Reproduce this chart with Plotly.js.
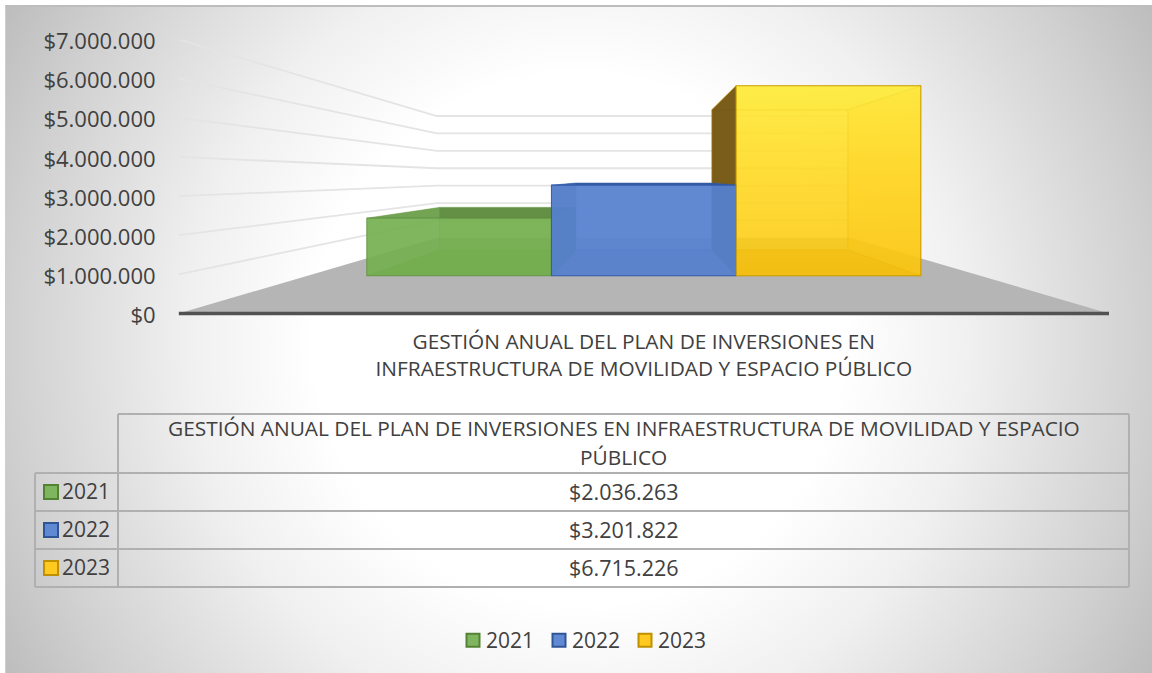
<!DOCTYPE html>
<html lang="es">
<head>
<meta charset="utf-8">
<script src="https://cdn.plot.ly/plotly-3.0.1.min.js"></script>
<style>
html,body{margin:0;padding:0;background:#fff;width:1152px;height:673px;overflow:hidden}
#bg{position:absolute;left:5px;top:5px;right:0;bottom:0;box-sizing:border-box;border-top:2px solid #bdbdbd;border-left:1px solid #cfcfcf;
background:radial-gradient(circle farthest-corner at 50% 50%,#fff 0%,#fff 40%,#f0f0f0 59%,#d0d0d0 86%,#bdbdbd 100%)}
#chart{position:absolute;left:0;top:0;width:1152px;height:673px}
</style>
</head>
<body>
<div id="bg"></div>
<div id="chart"></div>
<script>
const years = ['2021', '2022', '2023'];
const values = [2036263, 3201822, 6715226];
const valueLabels = ['$2.036.263', '$3.201.822', '$6.715.226'];
const gridValues = [1000000, 2000000, 3000000, 4000000, 5000000, 6000000, 7000000];
const categoryLines = ['GESTIÓN ANUAL DEL PLAN DE INVERSIONES EN', 'INFRAESTRUCTURA DE MOVILIDAD Y ESPACIO PÚBLICO'];
const tableHeaderLines = ['GESTIÓN ANUAL DEL PLAN DE INVERSIONES EN INFRAESTRUCTURA DE MOVILIDAD Y ESPACIO', 'PÚBLICO'];

const W = 1152, H = 673;
const FONT = '"Open Sans", sans-serif', TEXT = '#404040';
const HORIZON = 3480000;
const R_FRONT = 0.723, R_BACK = 0.533, R_WALL = 0.4446;
const HALF_FLOOR = 11.9, HALF_BARS = 9.8;
const barW = 2 * HALF_BARS / years.length;
const PX_PER_VALUE = 39.14 / 1000000;
const BELOW_AXIS_PX = 3;

function pt(X, V, r) { return [X * r, V * r + (1 - r) * HORIZON]; }
function face(points, fill, line, lw, extra) {
  const c = points.concat([points[0]]);
  return Object.assign({
    type: 'scatter', mode: 'lines', x: c.map(p => p[0]), y: c.map(p => p[1]),
    fill: 'toself', fillcolor: fill, line: {color: line || 'rgba(0,0,0,0)', width: lw === undefined ? 1 : lw},
    showlegend: false, hoverinfo: 'skip'
  }, extra || {});
}
const looks = [
  {key:'#7fb55f', edge:'#548235', frontEdge:'rgba(90,140,60,.6)',
   back:'rgba(118,174,82,.7)', floor:'rgba(106,160,70,.85)', side:'rgba(114,170,78,.6)', top:'rgba(84,130,53,.8)', front:'rgba(118,176,80,.8)', line:'rgba(100,150,65,.35)'},
  {key:'#5f8ad3', edge:'#2f5597', frontEdge:'rgba(47,85,170,.8)',
   back:'rgba(90,132,208,.8)', floor:'rgba(68,110,188,.8)', side:'rgba(62,105,170,.85)', top:'rgba(47,85,151,.9)', front:'rgba(90,132,208,.8)', line:'rgba(55,95,170,.4)'},
  {key:'#ffc91f', edge:'#bf9000', frontEdge:'rgba(200,155,0,.85)',
   back:'rgba(255,215,30,.6)', floor:'rgba(235,175,0,.75)', side:'rgba(112,82,20,.93)', sideR:'rgba(255,200,15,.7)', top:'rgba(250,222,50,.7)', front:'rgba(255,215,30,.72)', line:'rgba(200,155,0,.55)'}
];
function backFaces(i) {
  const x0 = -HALF_BARS + i * barW, x1 = x0 + barW, v = values[i], L = looks[i], e = L.line;
  return [
    face([pt(x0,0,R_BACK),pt(x1,0,R_BACK),pt(x1,v,R_BACK),pt(x0,v,R_BACK)], L.back, e, .8),
    face([pt(x0,0,R_FRONT),pt(x1,0,R_FRONT),pt(x1,0,R_BACK),pt(x0,0,R_BACK)], L.floor, e, .8),
    face([pt(x1,0,R_FRONT),pt(x1,0,R_BACK),pt(x1,v,R_BACK),pt(x1,v,R_FRONT)], L.sideR || L.side, e, .8),
    face([pt(x0,v,R_FRONT),pt(x1,v,R_FRONT),pt(x1,v,R_BACK),pt(x0,v,R_BACK)], L.top, e, .8),
    face([pt(x0,0,R_FRONT),pt(x0,0,R_BACK),pt(x0,v,R_BACK),pt(x0,v,R_FRONT)], L.side, e, .8)
  ];
}
function frontFace(i) {
  const x0 = -HALF_BARS + i * barW, x1 = x0 + barW, v = values[i], L = looks[i];
  const extra = i === 2 ? {fillgradient:{type:'vertical', colorscale:[[0,'rgba(250,195,10,.72)'],[0.5,'rgba(255,215,30,.72)'],[1,'rgba(255,238,60,.78)']]}} : {};
  return face([pt(x0,0,R_FRONT),pt(x1,0,R_FRONT),pt(x1,v,R_FRONT),pt(x0,v,R_FRONT)], L.front, L.frontEdge, 1.1, extra);
}

const traces = [];
traces.push(face([pt(-HALF_FLOOR,0,1),pt(HALF_FLOOR,0,1),pt(HALF_FLOOR,0,R_WALL),pt(-HALF_FLOOR,0,R_WALL)], '#b5b5b5', null, 0));
gridValues.forEach(v => {
  const p = [pt(-HALF_FLOOR,v,1), pt(-HALF_FLOOR,v,R_WALL), pt(HALF_FLOOR,v,R_WALL)];
  traces.push({type:'scatter', mode:'lines', x:p.map(q=>q[0]), y:p.map(q=>q[1]), line:{color:'#e4e4e4', width:1.8}, showlegend:false, hoverinfo:'skip'});
});
traces.push(...backFaces(2));
traces.push(...backFaces(0), frontFace(0));
traces.push(...backFaces(1), frontFace(1));
traces.push(frontFace(2));
traces.push({type:'scatter', mode:'lines', x:[-HALF_FLOOR,HALF_FLOOR], y:[0,0],
  line:{color:'#525252', width:3.5}, showlegend:false, hoverinfo:'skip'});
years.forEach((y, i) => traces.push({
  type:'scatter', mode:'markers', name:y, x:[null], y:[null],
  marker:{symbol:'square', size:13, color:looks[i].key, line:{color:looks[i].edge, width:2}}, hoverinfo:'skip'
}));

// data table: grid, keys and text
const px = v => v / W, py = v => (H - v) / H;
const T = {left:35, split:118, right:1129, top:414, head:473, row:38};
const rowY = i => T.head + T.row * i;
const gridLine = (x0, y0, x1, y1) => ({type:'line', xref:'paper', yref:'paper', layer:'above',
  x0:px(x0), x1:px(x1), y0:py(y0), y1:py(y1), line:{color:'#b0b0b0', width:2}});
const shapes = [
  gridLine(T.split, T.top, T.right, T.top),
  gridLine(T.left, T.head, T.left, rowY(years.length)),
  gridLine(T.split, T.top, T.split, rowY(years.length)),
  gridLine(T.right, T.top, T.right, rowY(years.length))
];
years.forEach((y, i) => {
  shapes.push(gridLine(T.left, rowY(i), T.right, rowY(i)));
  shapes.push({type:'rect', xref:'paper', yref:'paper', layer:'above',
    x0:px(44), x1:px(58), y0:py(rowY(i)+26), y1:py(rowY(i)+12),
    fillcolor:looks[i].key, line:{color:looks[i].edge, width:2}});
});
shapes.push(gridLine(T.left, rowY(years.length), T.right, rowY(years.length)));

const label = (text, x, y, anchor, size) => ({text, xref:'paper', yref:'paper', x:px(x), y:py(y), xanchor:anchor, yanchor:'middle',
  showarrow:false, font:{family:FONT, size, color:TEXT}});
const centre = (T.split + T.right) / 2;
const annotations = [
  label(tableHeaderLines[0], centre, 428, 'center', 20.85),
  label(tableHeaderLines[1], centre, 457, 'center', 20.85)
];
years.forEach((y, i) => {
  annotations.push(label(y, 112, rowY(i) + 18, 'right', 21));
  annotations.push(label(valueLabels[i], centre, rowY(i) + 18, 'center', 21.5));
});

const layout = {
  width:W, height:H, margin:{l:0,r:0,t:0,b:0},
  paper_bgcolor:'rgba(0,0,0,0)', plot_bgcolor:'rgba(0,0,0,0)',
  separators:',.',
  font:{family:FONT, color:TEXT},
  showlegend:true,
  legend:{orientation:'h', x:453/W, xanchor:'left', y:(H-620)/H, yanchor:'top',
    font:{family:FONT, size:21, color:TEXT}, bgcolor:'rgba(0,0,0,0)',
    entrywidth:41, entrywidthmode:'pixels', itemclick:false, itemdoubleclick:false},
  xaxis:{domain:[178.6/W,1109/W], range:[-HALF_FLOOR,HALF_FLOOR], showgrid:false, zeroline:false,
    showline:false,
    tickmode:'array', tickvals:[0], ticktext:[categoryLines.join('<br>')], ticks:'',
    tickfont:{family:FONT, size:20.85, color:TEXT}, ticklabelstandoff:11, fixedrange:true},
  yaxis:{domain:[(H-313.5-BELOW_AXIS_PX)/H,(H-39.5)/H], range:[-BELOW_AXIS_PX/PX_PER_VALUE,7000000], showgrid:false, zeroline:false, showline:false,
    tickmode:'array', tickvals:[0].concat(gridValues), tickformat:'$,.0f', ticks:'',
    tickfont:{family:FONT, size:22, color:TEXT}, ticklabelstandoff:22, ticklabelshift:2, fixedrange:true},
  shapes, annotations,
  hovermode:false
};
Plotly.newPlot('chart', traces, layout, {displayModeBar:false}).then(() => {
  document.querySelectorAll('.legend .legendtext').forEach(t => {
    t.setAttribute('x', +t.getAttribute('x') - 7);
  });
});
</script>
</body>
</html>
